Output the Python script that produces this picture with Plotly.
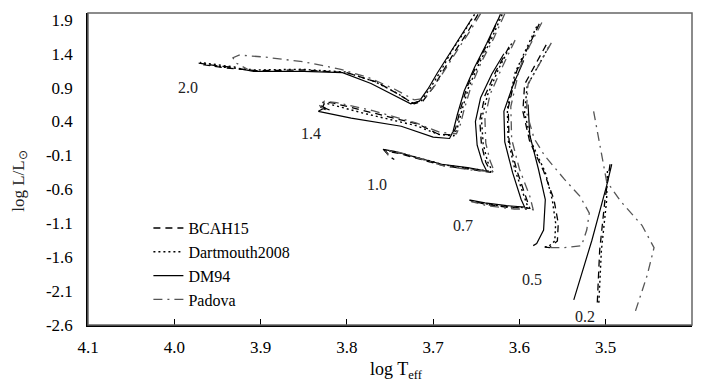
import plotly.graph_objects as go

# x = log Teff, y = log L/Lsun ; tracks
masses = ["2.0", "1.4", "1.0", "0.7", "0.5", "0.2"]

bcah15_x = {
    "2.0": [3.648, 3.660, 3.674, 3.688, 3.700, 3.712, 3.722, 3.740, 3.765, 3.800, 3.850, 3.905, 3.940, 3.968, 3.972, 3.950, 3.930],
    "1.4": [3.622, 3.635, 3.649, 3.661, 3.669, 3.674, 3.678, 3.695, 3.717, 3.776, 3.815, 3.825, 3.828, 3.822],
    "1.0": [3.612, 3.627, 3.640, 3.646, 3.644, 3.639, 3.633, 3.655, 3.688, 3.740, 3.756, 3.750, 3.745],
    "0.7": [3.577, 3.590, 3.603, 3.613, 3.612, 3.603, 3.592, 3.588, 3.610, 3.640, 3.658, 3.648],
    "0.5": [3.569, 3.582, 3.594, 3.596, 3.588, 3.572, 3.560, 3.555, 3.556, 3.565, 3.572],
    "0.2": [3.495, 3.501, 3.507, 3.510],
}
bcah15_y = {
    "2.0": [1.98, 1.72, 1.45, 1.15, 0.90, 0.70, 0.66, 0.80, 0.98, 1.12, 1.16, 1.15, 1.19, 1.24, 1.26, 1.22, 1.20],
    "1.4": [1.98, 1.60, 1.25, 0.90, 0.55, 0.30, 0.20, 0.22, 0.36, 0.55, 0.67, 0.69, 0.62, 0.57],
    "1.0": [1.50, 1.15, 0.78, 0.42, 0.06, -0.20, -0.35, -0.31, -0.25, -0.07, -0.03, -0.12, -0.16],
    "0.7": [1.84, 1.50, 1.15, 0.60, 0.12, -0.32, -0.72, -0.88, -0.87, -0.82, -0.76, -0.80],
    "0.5": [1.53, 1.22, 0.95, 0.55, 0.10, -0.33, -0.75, -1.10, -1.36, -1.46, -1.45],
    "0.2": [-0.23, -0.77, -1.50, -2.34],
}

dartmouth_x = {
    "2.0": [3.652, 3.664, 3.678, 3.691, 3.703, 3.714, 3.724, 3.742, 3.768, 3.802, 3.852, 3.906, 3.942, 3.966, 3.970, 3.948, 3.928],
    "1.4": [3.620, 3.633, 3.647, 3.659, 3.667, 3.672, 3.676, 3.694, 3.720, 3.780, 3.818, 3.828, 3.830, 3.822],
    "1.0": [3.609, 3.624, 3.637, 3.644, 3.642, 3.637, 3.631, 3.654, 3.687, 3.742, 3.757, 3.751],
    "0.7": [3.580, 3.592, 3.605, 3.614, 3.613, 3.605, 3.594, 3.590, 3.612, 3.641, 3.657],
    "0.5": [3.566, 3.579, 3.591, 3.594, 3.586, 3.570, 3.562, 3.558, 3.559, 3.567, 3.574],
    "0.2": [3.498, 3.499, 3.505, 3.508],
}
dartmouth_y = {
    "2.0": [1.98, 1.72, 1.45, 1.15, 0.90, 0.70, 0.67, 0.82, 0.99, 1.13, 1.17, 1.16, 1.20, 1.25, 1.27, 1.23, 1.20],
    "1.4": [1.98, 1.60, 1.25, 0.90, 0.55, 0.30, 0.19, 0.21, 0.34, 0.52, 0.65, 0.68, 0.61, 0.56],
    "1.0": [1.55, 1.18, 0.79, 0.43, 0.07, -0.19, -0.34, -0.30, -0.24, -0.05, -0.02, -0.10],
    "0.7": [1.80, 1.48, 1.12, 0.58, 0.12, -0.32, -0.72, -0.87, -0.86, -0.81, -0.77],
    "0.5": [1.50, 1.20, 0.93, 0.53, 0.09, -0.35, -0.75, -1.10, -1.36, -1.45, -1.44],
    "0.2": [-0.33, -0.77, -1.50, -2.28],
}

dm94_x = {
    "2.0": [3.656, 3.668, 3.682, 3.695, 3.706, 3.716, 3.726, 3.745, 3.772, 3.805, 3.850, 3.908, 3.925],
    "1.4": [3.625, 3.638, 3.652, 3.664, 3.672, 3.677, 3.681, 3.700, 3.737, 3.795, 3.833, 3.826, 3.820],
    "1.0": [3.618, 3.632, 3.645, 3.651, 3.649, 3.643, 3.638, 3.660, 3.690, 3.745, 3.758, 3.752],
    "0.7": [3.595, 3.607, 3.618, 3.617, 3.608, 3.598, 3.594, 3.615, 3.640, 3.657],
    "0.5": [3.590, 3.588, 3.578, 3.570, 3.572, 3.580, 3.584],
    "0.2": [3.493, 3.499, 3.516, 3.537],
}
dm94_y = {
    "2.0": [1.90, 1.66, 1.40, 1.12, 0.88, 0.70, 0.66, 0.78, 0.96, 1.12, 1.14, 1.14, 1.18],
    "1.4": [1.90, 1.55, 1.20, 0.85, 0.50, 0.25, 0.15, 0.17, 0.33, 0.45, 0.55, 0.60, 0.57],
    "1.0": [1.40, 1.10, 0.75, 0.40, 0.05, -0.20, -0.33, -0.28, -0.23, -0.04, -0.01, -0.08],
    "0.7": [1.30, 0.95, 0.55, 0.10, -0.35, -0.75, -0.86, -0.84, -0.80, -0.76],
    "0.5": [0.65, 0.20, -0.30, -0.75, -1.20, -1.40, -1.43],
    "0.2": [-0.23, -0.55, -1.35, -2.23],
}

padova_x = {
    "2.0": [3.645, 3.657, 3.671, 3.685, 3.698, 3.710, 3.722, 3.745, 3.775, 3.807, 3.850, 3.895, 3.925, 3.932, 3.928, 3.915],
    "1.4": [3.617, 3.630, 3.644, 3.656, 3.664, 3.669, 3.673, 3.692, 3.720, 3.770, 3.812, 3.826, 3.832, 3.827],
    "1.0": [3.605, 3.620, 3.634, 3.640, 3.639, 3.634, 3.629, 3.652, 3.686, 3.738, 3.756, 3.752],
    "0.7": [3.574, 3.588, 3.600, 3.610, 3.609, 3.600, 3.588, 3.584, 3.606, 3.638, 3.656],
    "0.5": [3.563, 3.578, 3.590, 3.592, 3.583, 3.571, 3.548, 3.530, 3.519, 3.522, 3.528, 3.548, 3.568],
    "0.2": [3.514, 3.505, 3.499, 3.483, 3.458, 3.444, 3.452, 3.467],
}
padova_y = {
    "2.0": [1.99, 1.74, 1.47, 1.18, 0.93, 0.74, 0.72, 0.88, 1.05, 1.17, 1.28, 1.35, 1.38, 1.34, 1.26, 1.17],
    "1.4": [1.99, 1.62, 1.28, 0.92, 0.58, 0.33, 0.22, 0.24, 0.38, 0.56, 0.68, 0.70, 0.64, 0.58],
    "1.0": [1.60, 1.20, 0.80, 0.45, 0.08, -0.18, -0.34, -0.32, -0.26, -0.06, -0.02, -0.10],
    "0.7": [1.86, 1.52, 1.18, 0.62, 0.14, -0.30, -0.70, -0.90, -0.89, -0.84, -0.78],
    "0.5": [1.56, 1.22, 0.95, 0.55, 0.15, -0.10, -0.45, -0.70, -0.95, -1.20, -1.43, -1.46, -1.46],
    "0.2": [0.55, -0.04, -0.48, -0.77, -1.13, -1.46, -1.87, -2.45],
}

label_x = [3.984, 3.841, 3.765, 3.665, 3.585, 3.524]
label_y = [0.90, 0.23, -0.53, -1.13, -1.93, -2.47]

x_ticks = [4.1, 4.0, 3.9, 3.8, 3.7, 3.6, 3.5]
y_ticks = [-2.6, -2.1, -1.6, -1.1, -0.6, -0.1, 0.4, 0.9, 1.4, 1.9]

FONT = "Liberation Serif"

models = [
    ("BCAH15", bcah15_x, bcah15_y, {"color": "black", "width": 1.3, "dash": "7px,5px"}),
    ("Dartmouth2008", dartmouth_x, dartmouth_y, {"color": "black", "width": 1.4, "dash": "2px,3px"}),
    ("DM94", dm94_x, dm94_y, {"color": "black", "width": 1.2, "dash": "solid"}),
    ("Padova", padova_x, padova_y, {"color": "#555555", "width": 1.3, "dash": "9px,5px,2px,5px"}),
]

fig = go.Figure()
for name, xs, ys, line in models:
    for i, m in enumerate(masses):
        fig.add_trace(go.Scatter(
            x=xs[m], y=ys[m], mode="lines", name=name, line=line,
            legendgroup=name, showlegend=(i == 0), hoverinfo="skip",
        ))

for m, lx, ly in zip(masses, label_x, label_y):
    fig.add_annotation(x=lx, y=ly, text=m, showarrow=False,
                       font={"family": FONT, "size": 16, "color": "#222"})

# page body has an 8px margin, so the layout is offset by that amount
fig.add_annotation(text="log L/L<sub>⊙</sub>", xref="paper", yref="paper",
                   x=-0.112, y=0.46, xanchor="center", yanchor="middle",
                   textangle=-90, showarrow=False,
                   font={"family": FONT, "size": 17, "color": "#222"})
fig.add_annotation(text="log T<sub>eff</sub>", xref="paper", yref="paper",
                   x=0.51, y=-0.147, xanchor="center", yanchor="middle",
                   showarrow=False,
                   font={"family": FONT, "size": 18, "color": "black"})

fig.add_shape(type="rect", xref="paper", yref="paper", x0=0, y0=0, x1=1, y1=1,
              line={"color": "#666", "width": 1.5}, layer="above")

fig.update_xaxes(
    range=[4.1, 3.4], tickvals=x_ticks, ticktext=[f"{v:.1f}" for v in x_ticks],
    ticks="inside", ticklen=6, tickcolor="black", showline=True, linecolor="black",
    linewidth=1.5, showgrid=False, zeroline=False, ticklabelstandoff=6,
    tickfont={"family": FONT, "size": 17, "color": "black"},
)
fig.update_yaxes(
    range=[-2.6, 2.0], tickvals=y_ticks, ticktext=[f"{v:.1f}" for v in y_ticks],
    ticks="outside", ticklen=0, showline=True, linecolor="black", linewidth=1.5,
    showgrid=False, zeroline=False, ticklabelstandoff=10,
    tickfont={"family": FONT, "size": 17, "color": "black"},
)
fig.update_layout(
    width=709, height=388,
    margin={"l": 80, "r": 25, "t": 3, "b": 71},
    plot_bgcolor="white", paper_bgcolor="white",
    legend={"x": 0.10, "y": 0.365, "xanchor": "left", "yanchor": "top",
            "bgcolor": "rgba(0,0,0,0)", "traceorder": "grouped", "tracegroupgap": 0,
            "font": {"family": FONT, "size": 16, "color": "black"}},
)

fig.write_html("out.html")
